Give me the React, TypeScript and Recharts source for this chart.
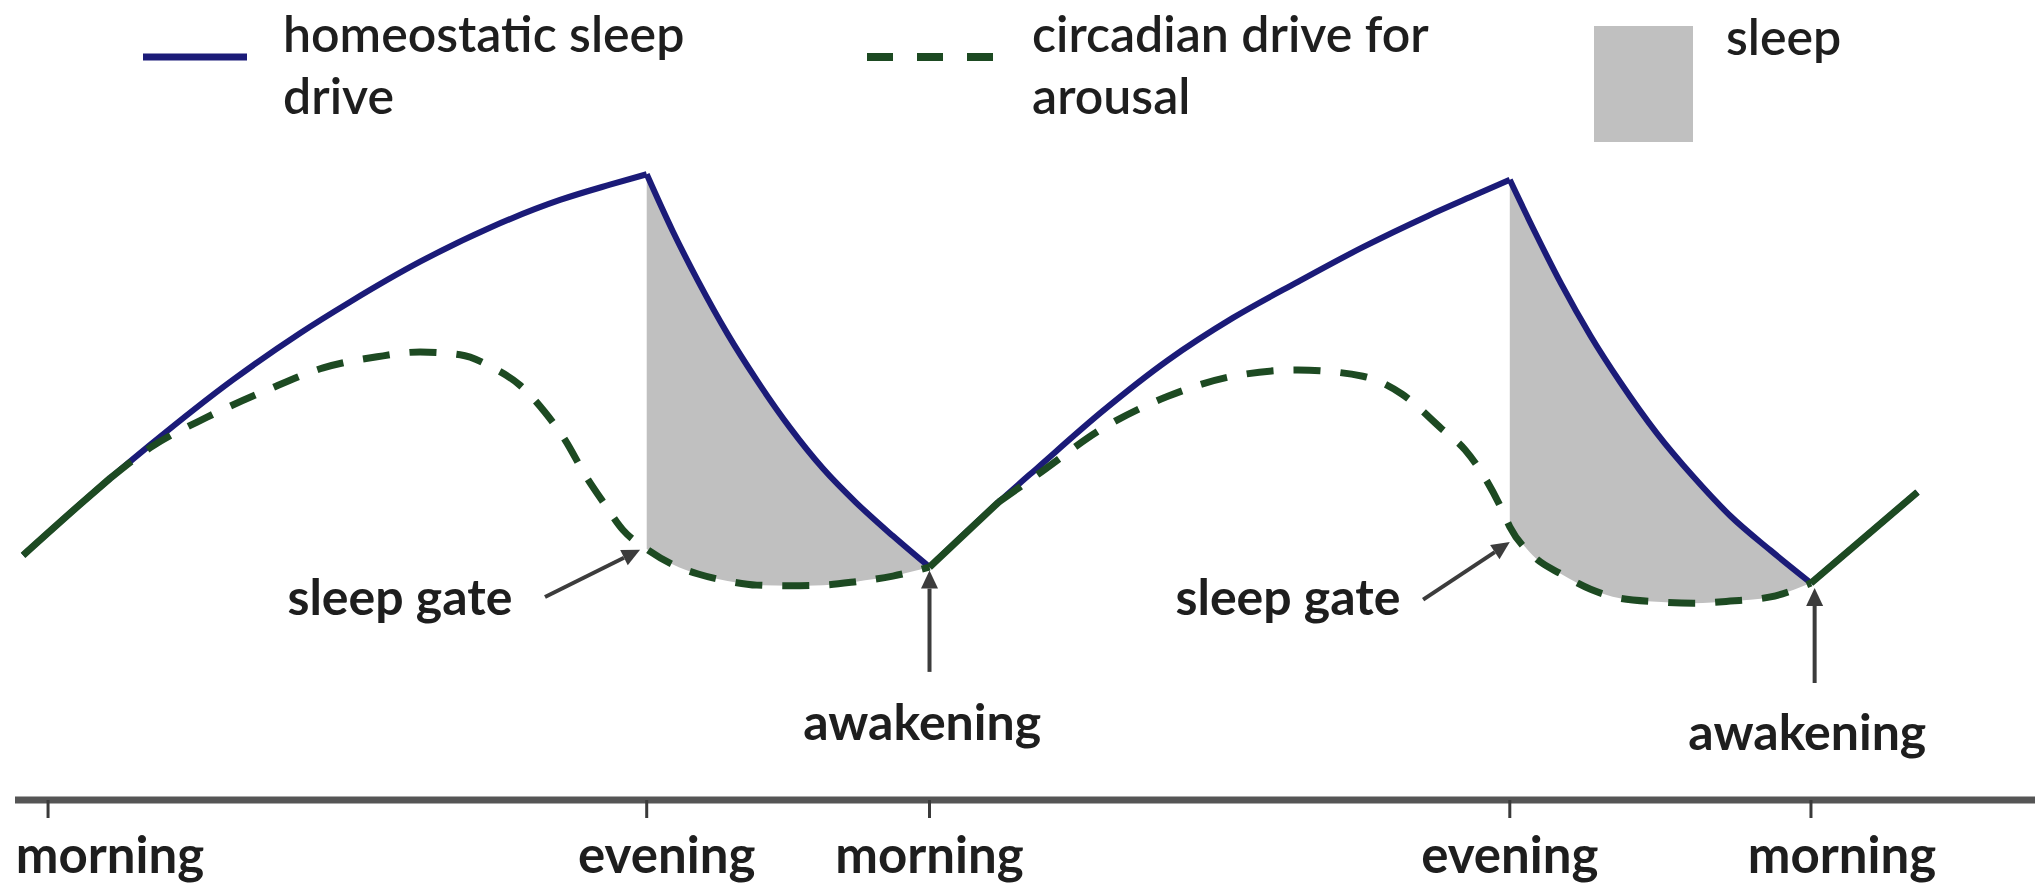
import React from 'react';
import {
  ComposedChart,
  Line,
  Area,
  XAxis,
  YAxis,
  ReferenceLine,
  ReferenceDot,
} from 'recharts';

// ---------- data (x = hours after first morning, y = drive level) ----------
const tickHours = [0, 16.3, 24, 39.8, 48];
const tickLabels = ['morning', 'evening', 'morning', 'evening', 'morning'];

// homeostatic sleep drive while awake
const homeoWake1Hours = [-0.68, 0.95, 2.78, 5.04, 6.86, 8.22, 10.13, 12.03, 13.94, 15.3, 16.3];
const homeoWake1Values = [34.4, 42.1, 50.3, 59.7, 66.4, 70.9, 76.7, 81.6, 85.6, 87.8, 89.3];
const homeoWake2Hours = [24, 25.89, 26.96, 28.72, 30.49, 32.26, 34.03, 35.8, 37.57, 38.85, 39.8];
const homeoWake2Values = [32.7, 42.1, 47.1, 55.2, 62.5, 68.6, 73.8, 78.8, 83.3, 86.3, 88.5];
const homeoWake3Hours = [48, 50.9];
const homeoWake3Values = [30.4, 43.5];

// sleep periods (shared hours for both drives)
const sleep1Hours = [16.3, 17, 17.7, 18.5, 19.3, 20.2, 21.1, 22, 23, 24];
const sleep1Homeo = [89.3, 81.2, 73.9, 66.3, 59.6, 52.8, 46.9, 42.0, 37.2, 32.7];
const sleep1Circ = [35.3, 33.1, 31.7, 30.7, 30.1, 30.0, 30.1, 30.6, 31.4, 32.7];
const sleep2Hours = [39.8, 40.5, 41.2, 42, 42.8, 43.8, 44.8, 45.8, 46.9, 48];
const sleep2Homeo = [88.5, 80.8, 73.5, 66.0, 59.4, 52.0, 45.7, 40.1, 35.1, 30.4];
const sleep2Circ = [38.5, 34.0, 31.7, 29.5, 28.2, 27.7, 27.5, 27.8, 28.4, 30.4];

// circadian drive for arousal while awake (diverging from homeostatic)
const circWake1Hours = [1.69, 2.78, 4.33, 5.96, 7.49, 8.96, 10.13, 11.22, 12.12, 12.85, 13.53, 14.08, 14.62, 15.11, 15.66];
const circWake1Values = [45.5, 49.9, 54.3, 58.2, 61.4, 63.0, 63.7, 63.3, 61.4, 58.9, 55.0, 51.0, 46.0, 42.1, 38.0];
const circWake2Hours = [25.89, 26.96, 28.72, 30.49, 32.26, 34.03, 35.8, 36.87, 37.93, 38.58, 39.13, 39.53];
const circWake2Values = [42.1, 46.1, 52.7, 57.3, 60.2, 61.1, 60.2, 57.6, 52.7, 49.6, 45.5, 41.6];

// circadian drive coinciding with homeostatic drive (drawn solid)
const overlap1Hours = [-0.68, 0.95, 1.69];
const overlap1Values = [34.4, 42.1, 45.5];
const overlap2Hours = [24, 25.89];
const overlap2Values = [32.7, 42.1];
const overlap3Hours = [48, 50.9];
const overlap3Values = [30.4, 43.5];

// annotations
const gateLabels = ['sleep gate', 'sleep gate'];
const gateLabelAt = [[9.58, 25.8], [33.76, 25.8]];
const gateArrows = [[[13.53, 28.4], [16.12, 35.2]], [[37.44, 28.0], [39.8, 36.3]]];
const wakeLabels = ['awakening', 'awakening'];
const wakeLabelAt = [[23.8, 7.8], [47.9, 6.3]];
const wakeArrows = [[[24, 17.6], [24, 32.2]], [[48.1, 16.0], [48.1, 29.7]]];

// ---------- helpers ----------
const rows = (hs: number[], vs: number[]) => hs.map((t, i) => ({ t, v: vs[i] }));
const bandRows = (hs: number[], lo: number[], hi: number[]) =>
  hs.map((t, i) => ({ t, band: [lo[i], hi[i]] }));

const homeo1 = rows(homeoWake1Hours, homeoWake1Values);
const homeoS1 = rows(sleep1Hours, sleep1Homeo);
const homeo2 = rows(homeoWake2Hours, homeoWake2Values);
const homeoS2 = rows(sleep2Hours, sleep2Homeo);
const homeo3 = rows(homeoWake3Hours, homeoWake3Values);
const circDay1 = rows([...circWake1Hours, ...sleep1Hours], [...circWake1Values, ...sleep1Circ]);
const circDay2 = rows([...circWake2Hours, ...sleep2Hours], [...circWake2Values, ...sleep2Circ]);
const band1 = bandRows(sleep1Hours, sleep1Circ, sleep1Homeo);
const band2 = bandRows(sleep2Hours, sleep2Circ, sleep2Homeo);
const ov1 = rows(overlap1Hours, overlap1Values);
const ov2 = rows(overlap2Hours, overlap2Values);
const ov3 = rows(overlap3Hours, overlap3Values);

const NAVY = '#1b1b78';
const GREEN = '#1d4a22';
const GRAY = '#c0c0c0';
const TEXT = '#1e1e1e';
const ARROW = '#3c3c3c';
const FONT = "Lato, 'Open Sans', 'Liberation Sans', sans-serif";

const tickShift = [62, 20, 0, 0, 31];

const TickLabel = (props: any) => {
  const { x, y, payload } = props;
  const i = tickHours.indexOf(payload.value);
  return (
    <text
      x={x + (tickShift[i] || 0)}
      y={y}
      dy={53}
      textAnchor="middle"
      fontFamily={FONT}
      fontWeight={700}
      fontSize={51}
      fill={TEXT}
    >
      {tickLabels[i]}
    </text>
  );
};

const ArrowShape = (p: any) => {
  const { x1, y1, x2, y2 } = p;
  if ([x1, y1, x2, y2].some((v) => typeof v !== 'number' || isNaN(v))) return <g />;
  const ang = Math.atan2(y2 - y1, x2 - x1);
  const L = 18;
  const W = 8.5;
  const bx = x2 - L * Math.cos(ang);
  const by = y2 - L * Math.sin(ang);
  const pts = `${x2},${y2} ${bx + W * Math.sin(ang)},${by - W * Math.cos(ang)} ${bx - W * Math.sin(ang)},${by + W * Math.cos(ang)}`;
  return (
    <g>
      <line x1={x1} y1={y1} x2={bx} y2={by} stroke={ARROW} strokeWidth={4} />
      <polygon points={pts} fill={ARROW} />
    </g>
  );
};

const labelShape = (text: string) => (p: any) => (
  <text
    x={p.cx}
    y={p.cy}
    textAnchor="middle"
    fontFamily={FONT}
    fontWeight={700}
    fontSize={50}
    fill={TEXT}
  >
    {text}
  </text>
);

const LegendOverlay = () => (
  <svg
    width={2035}
    height={160}
    style={{ position: 'absolute', left: 0, top: 0, pointerEvents: 'none' }}
  >
    <line x1={143} x2={247} y1={57} y2={57} stroke={NAVY} strokeWidth={7} />
    <text x={283} y={52} fontFamily={FONT} fontWeight={600} fontSize={50} fill={TEXT}>homeostatic sleep</text>
    <text x={283} y={114} fontFamily={FONT} fontWeight={600} fontSize={50} fill={TEXT}>drive</text>
    <line x1={867} x2={993} y1={57} y2={57} stroke={GREEN} strokeWidth={8} strokeDasharray="26 24" />
    <text x={1032} y={52} fontFamily={FONT} fontWeight={600} fontSize={50} fill={TEXT}>circadian drive for</text>
    <text x={1032} y={114} fontFamily={FONT} fontWeight={600} fontSize={50} fill={TEXT}>arousal</text>
    <rect x={1594} y={26} width={99} height={116} fill={GRAY} />
    <text x={1726} y={55} fontFamily={FONT} fontWeight={600} fontSize={50} fill={TEXT}>sleep</text>
  </svg>
);

export default function App() {
  const lineCommon = {
    dataKey: 'v',
    type: 'monotone' as const,
    dot: false,
    activeDot: false,
    isAnimationActive: false,
  };
  return (
    <div style={{ position: 'absolute', left: 0, top: 0, width: 2035, height: 891, background: '#fff' }}>
      <ComposedChart width={2035} height={891} margin={{ top: 100, right: 0, bottom: 0, left: 15 }}>
        <XAxis
          type="number"
          dataKey="t"
          domain={[-0.9, 54.1]}
          ticks={tickHours}
          interval={0}
          allowDataOverflow
          height={91}
          axisLine={{ stroke: '#555555', strokeWidth: 7 }}
          tickLine={{ stroke: '#3a3a3a', strokeWidth: 3 }}
          tickSize={18}
          tick={<TickLabel />}
        />
        <YAxis type="number" domain={[-0.86, 100]} hide allowDataOverflow />

        <Area data={band1} dataKey="band" type="monotone" fill={GRAY} fillOpacity={1} stroke="none" isAnimationActive={false} />
        <Area data={band2} dataKey="band" type="monotone" fill={GRAY} fillOpacity={1} stroke="none" isAnimationActive={false} />

        <Line {...lineCommon} data={homeo1} stroke={NAVY} strokeWidth={6} />
        <Line {...lineCommon} data={homeoS1} stroke={NAVY} strokeWidth={6} />
        <Line {...lineCommon} data={homeo2} stroke={NAVY} strokeWidth={6} />
        <Line {...lineCommon} data={homeoS2} stroke={NAVY} strokeWidth={6} />
        <Line {...lineCommon} data={homeo3} stroke={NAVY} strokeWidth={6} />

        <Line {...lineCommon} data={circDay1} stroke={GREEN} strokeWidth={7} strokeDasharray="27 20" />
        <Line {...lineCommon} data={circDay2} stroke={GREEN} strokeWidth={7} strokeDasharray="27 20" />
        <Line {...lineCommon} data={ov1} stroke={GREEN} strokeWidth={7} />
        <Line {...lineCommon} data={ov2} stroke={GREEN} strokeWidth={7} />
        <Line {...lineCommon} data={ov3} stroke={GREEN} strokeWidth={7} />

        {gateArrows.map((a, i) => (
          <ReferenceLine key={'ga' + i} segment={[{ x: a[0][0], y: a[0][1] }, { x: a[1][0], y: a[1][1] }]} shape={ArrowShape} />
        ))}
        {wakeArrows.map((a, i) => (
          <ReferenceLine key={'wa' + i} segment={[{ x: a[0][0], y: a[0][1] }, { x: a[1][0], y: a[1][1] }]} shape={ArrowShape} />
        ))}
        {gateLabelAt.map((p, i) => (
          <ReferenceDot key={'gl' + i} x={p[0]} y={p[1]} r={1} shape={labelShape(gateLabels[i])} />
        ))}
        {wakeLabelAt.map((p, i) => (
          <ReferenceDot key={'wl' + i} x={p[0]} y={p[1]} r={1} shape={labelShape(wakeLabels[i])} />
        ))}
      </ComposedChart>
      <LegendOverlay />
    </div>
  );
}
